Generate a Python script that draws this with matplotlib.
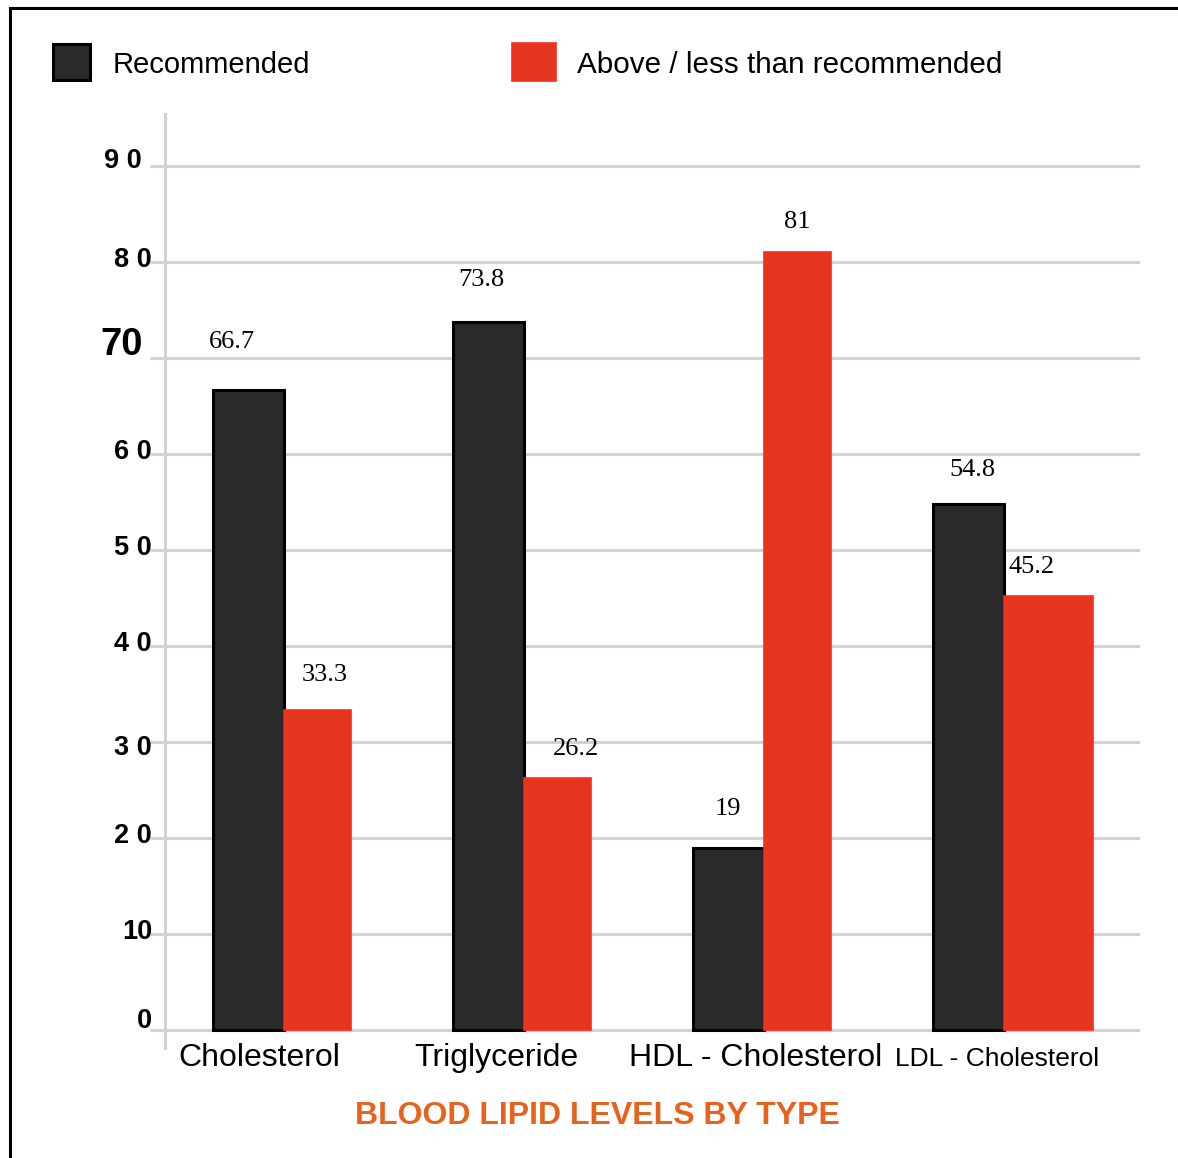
import matplotlib
matplotlib.use("Agg")
import matplotlib.pyplot as plt
from matplotlib.patches import Rectangle
from matplotlib.lines import Line2D
from matplotlib import font_manager

# ---- data ----
categories = ["Cholesterol", "Triglyceride", "HDL - Cholesterol", "LDL - Cholesterol"]
recommended = [66.7, 73.8, 19, 54.8]
outside = [33.3, 26.2, 81, 45.2]
series_names = ["Recommended", "Above / less than recommended"]
ytick_values = [0, 10, 20, 30, 40, 50, 60, 70, 80, 90]
ytick_labels = ["0", "10", "2 0", "3 0", "4 0", "5 0", "6 0", "70", "8 0", "9 0"]
title = "BLOOD LIPID LEVELS BY TYPE"

# ---- style ----
W, H = 1178, 1158
DARK = "#2a2a2a"
RED = "#e4361e"
RED_EDGE = "#ff2b1c"
GRID = "#d2d2d2"
ORANGE = "#e8621e"
SANS = "Liberation Sans"
SERIF = "Liberation Serif"
installed = {f.name for f in font_manager.fontManager.ttflist}
NARROW = "Liberation Sans Narrow" if "Liberation Sans Narrow" in installed else SANS

dark_width = 0.296
red_widths = [0.28, 0.28, 0.28, 0.37]

fig = plt.figure(figsize=(W / 100, H / 100), dpi=100)
fig.patch.set_facecolor("white")

def px(x, y):
    return x / W, 1 - y / H

# outer frame (top and left edges)
fig.add_artist(Line2D([10 / W, 1.0], [1 - 8 / H, 1 - 8 / H], color="black", lw=2.2,
                      transform=fig.transFigure))
fig.add_artist(Line2D([10 / W, 10 / W], [1 - 8 / H, 0], color="black", lw=2.2,
                      transform=fig.transFigure))

# plot area
left, right, top, bottom = 150, 1140, 113, 1050
ax = fig.add_axes([left / W, 1 - bottom / H, (right - left) / W, (bottom - top) / H])
ax.set_xlim((left - 284) / 240, (right - 284) / 240)
ax.set_ylim(-20 / 9.6, 90 + 53 / 9.6)
ax.set_axis_off()

xlo, xhi = ax.get_xlim()
for v in ytick_values:
    ax.hlines(v, xlo, xhi, color=GRID, lw=2.2, zorder=1)
ax.axvline((165 - 284) / 240, color=GRID, lw=2.2, zorder=1)

idx = list(range(len(categories)))
ax.bar(idx, recommended, width=-dark_width, align="edge", color=DARK,
       edgecolor="black", linewidth=2.2, zorder=3)
ax.bar(idx, outside, width=red_widths, align="edge", color=RED,
       edgecolor=RED_EDGE, linewidth=1.2, zorder=3)

# y tick labels
ytick_nudge = {90: (-8, 5), 70: (-7, 13), 30: (2, -6), 0: (2, 9)}
for v, lab in zip(ytick_values, ytick_labels):
    dx, dy = ytick_nudge.get(v, (2, 2))
    if lab == "70":
        fam, size = SANS, 27.5
    else:
        fam, size = NARROW, 19.5
    ax.annotate(lab, xy=(0, v), xycoords=ax.get_yaxis_transform(),
                xytext=(dx, dy), textcoords="offset pixels",
                ha="right", va="center", fontsize=size, fontweight="bold",
                family=fam, color="black", annotation_clip=False)

# value labels above bars
rec_nudge = [(-17, 48), (-7, 42), (-1, 39), (4, 34)]
out_nudge = [(7, 35), (18, 29), (0, 30), (-17, 29)]
for i in idx:
    ax.annotate(f"{recommended[i]:g}", xy=(i - dark_width / 2, recommended[i]),
                xytext=rec_nudge[i], textcoords="offset pixels",
                ha="center", va="center", fontsize=19, family=SERIF, zorder=5)
    ax.annotate(f"{outside[i]:g}", xy=(i + red_widths[i] / 2, outside[i]),
                xytext=out_nudge[i], textcoords="offset pixels",
                ha="center", va="center", fontsize=19, family=SERIF, zorder=5)

# category labels
cat_nudge = [(-25, -8), (-28, -8), (-8, -8), (-7, -9)]
cat_sizes = [23, 23, 23, 19]
for i, name in enumerate(categories):
    ax.annotate(name, xy=(i, 0), xycoords=ax.get_xaxis_transform(),
                xytext=cat_nudge[i], textcoords="offset pixels",
                ha="center", va="center", fontsize=cat_sizes[i], family=SANS,
                annotation_clip=False)

# legend
fig.add_artist(Rectangle(px(53, 80), 37 / W, 36 / H, transform=fig.transFigure,
                         facecolor=DARK, edgecolor="black", lw=2.2))
fig.add_artist(Rectangle(px(512, 81), 44 / W, 38 / H, transform=fig.transFigure,
                         facecolor=RED, edgecolor=RED_EDGE, lw=1.2))
fig.text(*px(113, 65), series_names[0], ha="left", va="center", fontsize=21, family=SANS)
fig.text(*px(577, 65), series_names[1], ha="left", va="center", fontsize=21.3, family=SANS)

# title
fig.text(*px(597, 1116), title, ha="center", va="center", fontsize=23,
         fontweight="bold", family=SANS, color=ORANGE)

fig.savefig("out.png", dpi=100, facecolor="white")
